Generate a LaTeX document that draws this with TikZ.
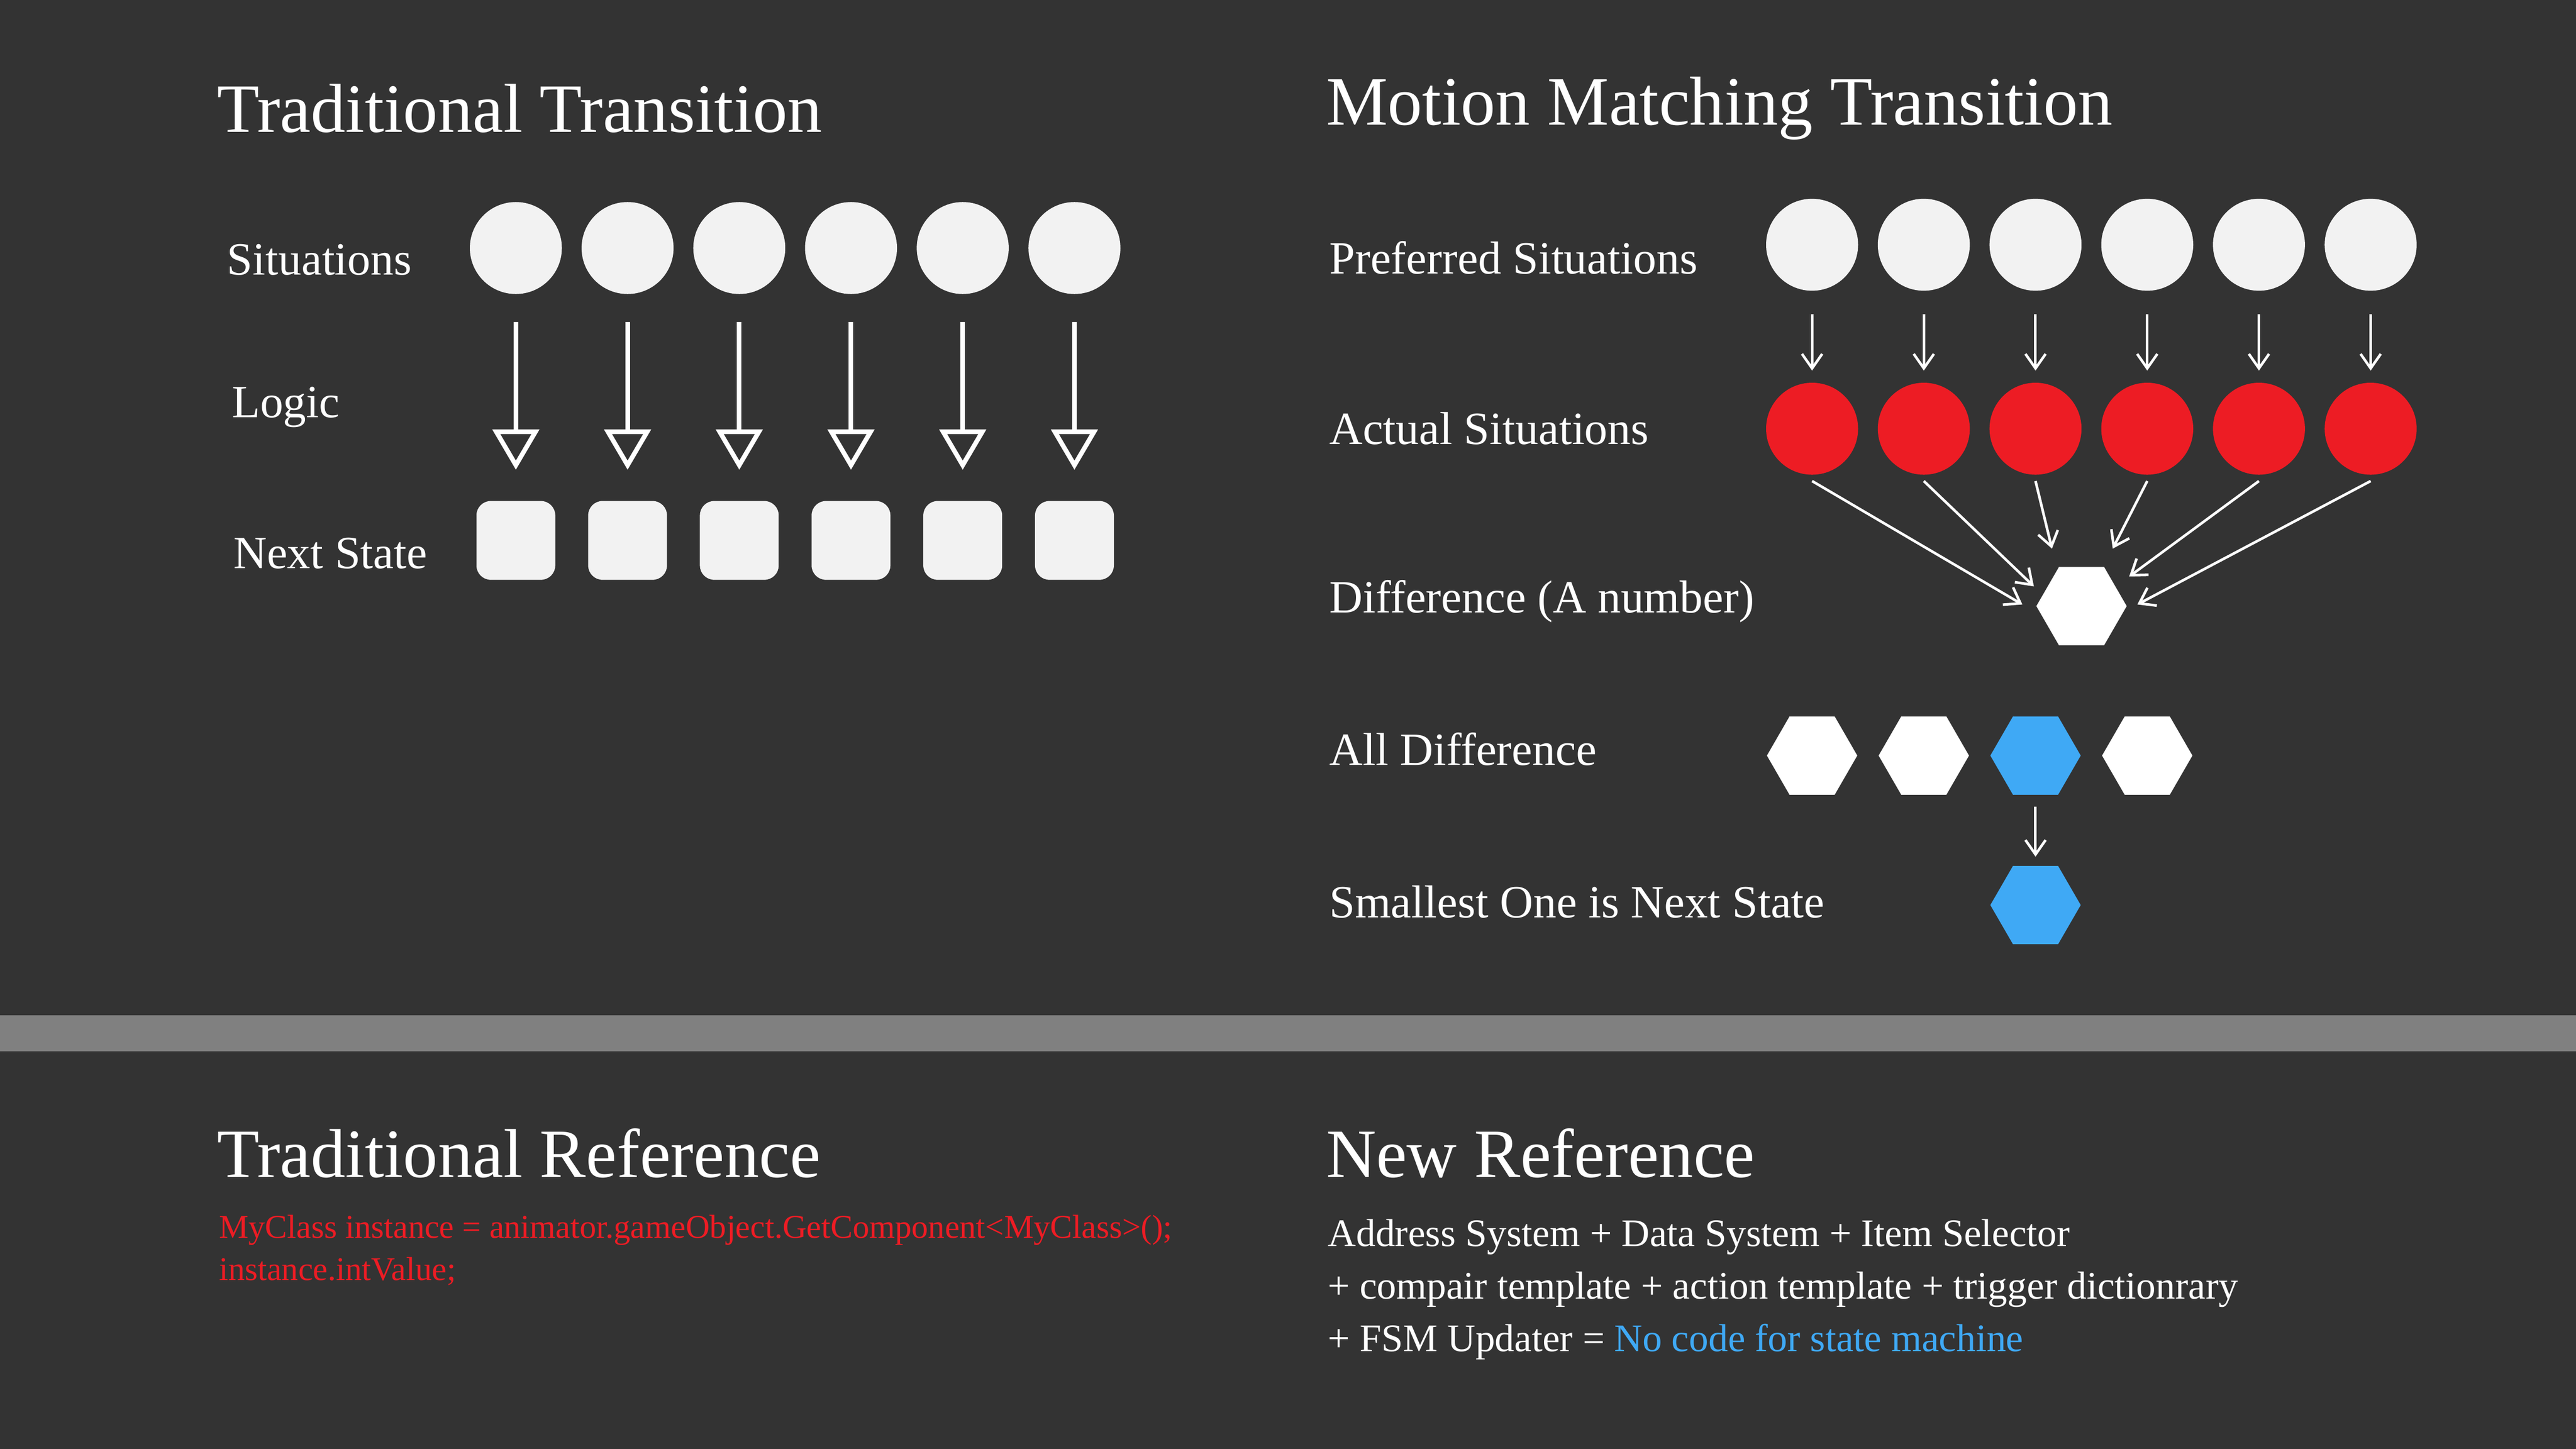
\documentclass[tikz,border=0pt]{standalone}
\usepackage{fontspec}
\setmainfont{Liberation Serif}
\usetikzlibrary{arrows.meta, shapes.geometric}
\definecolor{bg}{HTML}{333333}
\definecolor{bar}{HTML}{808080}
\definecolor{dot}{HTML}{F2F2F2}
\definecolor{hot}{HTML}{ED1C24}
\definecolor{pick}{HTML}{3FA9F5}
\tikzset{
	title/.style={anchor=west, text=white, font=\fontsize{24}{28}\selectfont},
	lbl/.style={anchor=west, text=white, font=\fontsize{16}{19}\selectfont},
	txt/.style={anchor=west, text=white, font=\fontsize{13.5}{16}\selectfont, inner sep=0pt},
	code/.style={anchor=west, text=hot, font=\fontsize{11.5}{14}\selectfont, inner sep=0pt},
	ball/.style={circle, fill=dot, minimum size=1.12cm, inner sep=0pt},
	redball/.style={ball, fill=hot},
	box/.style={rounded corners=5pt, fill=dot, minimum size=0.96cm, inner sep=0pt},
	hex/.style={regular polygon, regular polygon sides=6, fill=white, minimum size=1.1cm, inner sep=0pt},
	bighead/.style={white, line width=1.6pt, -{Triangle[open, width=16pt, length=14pt, line width=1.6pt]}},
	small/.style={white, line width=0.9pt, -{Straight Barb[length=5pt, width=7pt]}}
}
\begin{document}
\begin{tikzpicture}[x=0.02cm, y=-0.02cm]
	\fill [bg] (0,0) rectangle (1568,882);
	\useasboundingbox (0,0) rectangle (1568,882);
	\fill [bar] (0,618) rectangle (1568,640);

	% traditional
	\node [title] (tt) at (126,66) {Traditional Transition};
	\node [lbl] (sit) at (132,158) {Situations};
	\node [lbl] (logic) at (135,248) {Logic};
	\node [lbl] (next) at (136,337) {Next State};
	\foreach \i/\x in {1/314,2/382,3/450,4/518,5/586,6/654} {
		\node [ball] (s\i) at (\x,151) {};
		\node [box] (n\i) at (\x,329) {};
		\coordinate (a\i) at (\x,196);
		\coordinate (b\i) at (\x,286);
		\draw [bighead] (a\i) -- (b\i);
	}

	% motion matching
	\node [title] (mt) at (801,66) {Motion Matching Transition};
	\node [lbl] (pref) at (803,157) {Preferred Situations};
	\node [lbl] (act) at (803,261) {Actual Situations};
	\node [lbl] (diff) at (803,366) {Difference (A number)};
	\node [lbl] (all) at (803,456) {All Difference};
	\node [lbl] (small) at (803,549) {Smallest One is Next State};
	\node [hex] (d) at (1267,369) {};
	\foreach \i/\x in {1/1103,2/1171,3/1239,4/1307,5/1375,6/1443} {
		\node [ball] (p\i) at (\x,149) {};
		\node [redball] (r\i) at (\x,261) {};
		\draw [small] ([yshift=-8pt]p\i.south) -- ([yshift=4pt]r\i.north);
	}
	\coordinate (e1) at (1231,368);
	\coordinate (e2) at (1238,357);
	\coordinate (e3) at (1249,334);
	\coordinate (e4) at (1286,334);
	\coordinate (e5) at (1296,351);
	\coordinate (e6) at (1301,368);
	\foreach \i in {1,...,6}
		\draw [small] ([yshift=-2pt]r\i.south) -- (e\i);

	\node [hex] (h1) at (1103,460) {};
	\node [hex] (h2) at (1171,460) {};
	\node [hex, fill=pick] (h3) at (1239,460) {};
	\node [hex] (h4) at (1307,460) {};
	\node [hex, fill=pick] (win) at (1239,551) {};
	\draw [small] ([yshift=-4pt]h3.south) -- ([yshift=3pt]win.north);

	% references
	\node [title] (tr) at (126,702) {Traditional Reference};
	\node [code] (c1) at (133,749) {MyClass instance = animator.gameObject.GetComponent<MyClass>();};
	\node [code] (c2) at (133,774) {instance.intValue;};
	\node [title] (nr) at (801,702) {New Reference};
	\node [txt] (l1) at (808,753) {Address System + Data System + Item Selector};
	\node [txt] (l2) at (808,785) {+ compair template + action template + trigger dictionrary};
	\node [txt] (l3) at (808,817) {+ FSM Updater = \textcolor{pick}{No code for state machine}};
\end{tikzpicture}
\end{document}
